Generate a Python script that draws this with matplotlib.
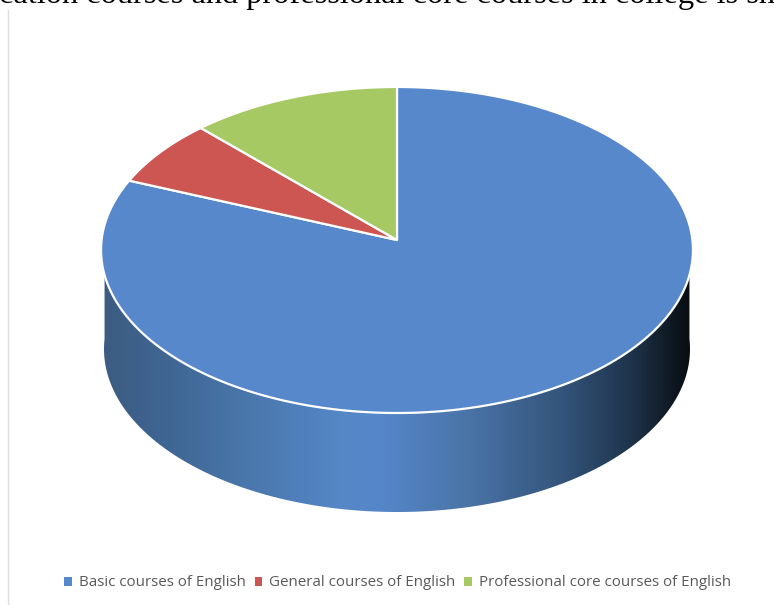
import numpy as np
import matplotlib
matplotlib.use("Agg")
import matplotlib.pyplot as plt
from matplotlib.colors import LinearSegmentedColormap
from matplotlib.patches import Polygon, Patch

categories = ["Basic courses of English", "General courses of English",
              "Professional core courses of English"]
shares = [81.1, 6.7, 12.2]
colors = ["#5688CB", "#CD5653", "#A6C963"]
caption = "cation courses and professional core courses in college is sh"

# pie geometry in pixels
W, H = 774, 605
APEX_X, APEX_Y = 397, 240
SCALE_X, SCALE_Y, TILT = 295.4, 162.4, 0.0613
DEPTH = 99


def project(theta):
    # clockwise angle from 12 o'clock onto the tilted disc
    x, y = np.sin(theta), np.cos(theta)
    d = 1 + TILT * y
    return APEX_X + SCALE_X * x / d, APEX_Y - SCALE_Y * y / d


fig = plt.figure(figsize=(W / 100, H / 100), dpi=100)
ax = fig.add_axes([0, 0, 1, 1])
ax.set_xlim(0, W)
ax.set_ylim(H, 0)
ax.axis("off")

# side wall with a horizontal shade
theta = np.linspace(np.pi / 2, 3 * np.pi / 2, 300)
px, py = project(theta)
bx = APEX_X + (px - APEX_X) * 0.99
by = py + DEPTH
outline = np.column_stack([
    np.r_[bx[0], bx, bx[-1]],
    np.r_[py[0], by, py[-1]],
])
wall = Polygon(outline, closed=True, transform=ax.transData, fc="none", ec="none")
ax.add_patch(wall)
shade = LinearSegmentedColormap.from_list("wall", [
    (0.00, "#3C5C82"), (0.10, "#3F6592"), (0.25, "#4A78AD"), (0.40, "#5586C6"),
    (0.47, "#5687CA"), (0.62, "#4A74A8"), (0.78, "#34557C"), (0.90, "#1E344B"),
    (1.00, "#080D12"),
])
grad = ax.imshow(np.linspace(0, 1, 256)[None, :], cmap=shade, aspect="auto",
                 extent=(bx.min(), bx.max(), by.max(), 240), zorder=1)
grad.set_clip_path(wall)
ax.set_xlim(0, W)
ax.set_ylim(H, 0)

# top face, clockwise from 12 o'clock
edges = np.cumsum([0] + shares) / sum(shares) * 2 * np.pi
handles = []
for i, (name, col) in enumerate(zip(categories, colors)):
    t = np.linspace(edges[i], edges[i + 1], 200)
    x, y = project(t)
    ax.fill(np.r_[APEX_X, x], np.r_[APEX_Y, y], fc=col, ec="white", lw=1.6,
            joinstyle="round", zorder=3)
    handles.append(Patch(fc=col, ec="none", label=name))

# running text line above the chart, cut by the top edge
ax.text(-1, 3, caption, family="Liberation Serif", fontsize=23.3, color="black",
        ha="left", va="baseline")
ax.plot([8, 8], [10, H], color="#DDDDDD", lw=1)

leg = ax.legend(handles=handles, ncol=3, loc="center", bbox_to_anchor=(397.5, 583),
                bbox_transform=ax.transData, frameon=False,
                prop={"family": "Open Sans", "size": 10.9}, labelcolor="#595959",
                handlelength=0.5, handleheight=0.55, handletextpad=0.45,
                columnspacing=0.6, borderpad=0)

fig.savefig("out.png", dpi=100)
plt.close(fig)
